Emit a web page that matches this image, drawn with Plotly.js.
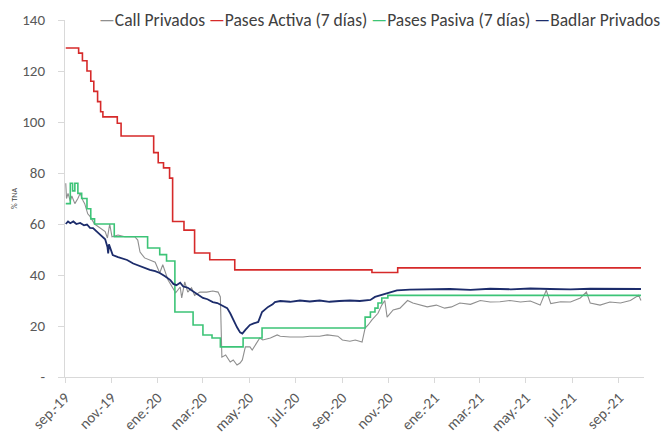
<!DOCTYPE html>
<html>
<head>
<meta charset="utf-8">
<script src="https://cdn.plot.ly/plotly-3.0.1.min.js"></script>
<style>html,body{margin:0;padding:0;background:#fff;}#chart{width:665px;height:436px;}</style>
</head>
<body>
<div id="chart"></div>
<script>
// ---- Series names and colours ----
const seriesNames = ["Call Privados", "Pases Activa (7 días)", "Pases Pasiva (7 días)", "Badlar Privados"];
const seriesColors = ["#8f8f8f", "#d62a2a", "#3cc477", "#1c2c6b"];

// ---- Call Privados ----
const callDates = ["2019-09-02","2019-09-03","2019-09-05","2019-09-08","2019-09-10","2019-09-14","2019-09-18","2019-09-21","2019-09-25","2019-09-27","2019-10-01","2019-10-04","2019-10-10","2019-10-17","2019-10-24","2019-10-27","2019-10-30","2019-11-02","2019-11-10","2019-11-19","2019-12-02","2019-12-06","2019-12-09","2019-12-15","2019-12-22","2019-12-29","2020-01-04","2020-01-08","2020-01-15","2020-01-20","2020-01-25","2020-01-31","2020-02-02","2020-02-06","2020-02-10","2020-02-15","2020-02-19","2020-02-26","2020-03-06","2020-03-14","2020-03-21","2020-03-24","2020-03-26","2020-03-31","2020-04-06","2020-04-10","2020-04-15","2020-04-19","2020-04-22","2020-04-26","2020-05-02","2020-05-05","2020-05-11","2020-05-15","2020-05-19","2020-05-29","2020-06-07","2020-06-11","2020-06-24","2020-07-03","2020-07-11","2020-07-20","2020-08-02","2020-08-12","2020-08-26","2020-09-01","2020-09-11","2020-09-18","2020-09-27","2020-10-01","2020-10-05","2020-10-10","2020-10-18","2020-10-23","2020-10-27","2020-10-30","2020-11-07","2020-11-16","2020-11-26","2020-12-03","2020-12-13","2020-12-22","2021-01-03","2021-01-14","2021-01-23","2021-02-03","2021-02-17","2021-03-02","2021-03-15","2021-03-28","2021-04-10","2021-04-24","2021-05-07","2021-05-20","2021-05-28","2021-06-03","2021-06-16","2021-06-29","2021-07-12","2021-07-20","2021-07-25","2021-08-07","2021-08-20","2021-09-03","2021-09-16","2021-09-27","2021-09-30"];
const callValues = [76,70,72,69,71,68,70,72,69,68,64,63,60,58.4,57,54.5,60,55,55.7,55,55,53.7,49,46.7,45.9,45,40.8,44,38,35.3,33,35.3,31,37.3,33.3,35,32,33.3,33.3,33.7,33.3,31.4,7.8,8.6,5.9,6.7,4.7,5.5,6.7,11.8,11.8,10.6,13.3,15.3,14.5,15.3,16.5,16,15.7,15.7,15.7,16,16,16.5,16,14.5,14,14.5,13.7,19.2,20.4,22.4,25,28.2,30,23.5,26.3,27,30,29,28.2,27.5,28.2,27,27.5,29,28.5,30,29.4,29.5,30,29.4,29.8,28.2,34,28.8,29.5,29.4,31,33.3,29,28.2,29.4,29,30,32,30];

// ---- Pases Activa (7 días) ----
const activaDates = ["2019-09-02","2019-09-19","2019-09-24","2019-09-30","2019-10-05","2019-10-09","2019-10-14","2019-10-18","2019-10-21","2019-11-09","2019-11-14","2019-12-27","2020-01-02","2020-01-09","2020-01-17","2020-01-21","2020-02-05","2020-02-19","2020-03-10","2020-04-12","2020-10-10","2020-11-13","2021-09-30"];
const activaValues = [129,127,124,120,116,112,108,104,102,99.5,94.5,88,84,82,78,61,57.6,48.6,46,42,41,42.8,42.8];

// ---- Pases Pasiva (7 días) ----
const pasivaDates = ["2019-09-02","2019-09-08","2019-09-11","2019-09-14","2019-09-18","2019-09-23","2019-09-30","2019-10-05","2019-10-10","2019-11-05","2019-12-19","2020-01-04","2020-01-13","2020-01-24","2020-02-17","2020-03-01","2020-03-13","2020-03-24","2020-04-23","2020-05-18","2020-10-01","2020-10-08","2020-10-14","2020-10-18","2020-10-23","2020-10-31","2021-09-30"];
const pasivaValues = [68,76,73,76,72,70,66,62,60,55,50.6,48,45.5,25.5,20.4,16.5,15.3,11.8,15.3,19.2,23.5,25.5,27,29,31,32,32];

// ---- Badlar Privados ----
const badlarDates = ["2019-09-02","2019-09-05","2019-09-08","2019-09-12","2019-09-16","2019-09-21","2019-09-26","2019-09-30","2019-10-04","2019-10-08","2019-10-13","2019-10-17","2019-10-21","2019-10-24","2019-10-27","2019-10-28","2019-10-29","2019-11-01","2019-11-03","2019-11-10","2019-11-16","2019-11-22","2019-11-30","2019-12-06","2019-12-13","2019-12-22","2019-12-29","2020-01-04","2020-01-11","2020-01-18","2020-01-22","2020-01-26","2020-01-31","2020-02-04","2020-02-10","2020-02-17","2020-02-24","2020-03-01","2020-03-07","2020-03-14","2020-03-20","2020-03-27","2020-04-02","2020-04-06","2020-04-10","2020-04-15","2020-04-19","2020-04-22","2020-04-26","2020-05-02","2020-05-07","2020-05-13","2020-05-18","2020-05-22","2020-05-26","2020-06-01","2020-06-04","2020-06-11","2020-06-24","2020-07-07","2020-07-20","2020-08-02","2020-08-15","2020-08-28","2020-09-11","2020-09-24","2020-10-08","2020-10-14","2020-10-20","2020-10-31","2020-11-12","2020-11-29","2020-12-26","2021-01-21","2021-02-17","2021-03-15","2021-04-11","2021-05-07","2021-06-02","2021-06-29","2021-07-25","2021-08-20","2021-09-16","2021-09-30"];
const badlarValues = [60,61,60.3,61,60,60.4,59.5,59.8,58.5,58.4,57,56,55,54,51,48.5,52,49,47.8,47,46.5,45.9,44.5,43.8,43,42,41.5,40.8,39.5,38,36.5,36,37,35.5,35,33.5,32,31,30.5,29.4,29,28,27,25,22.4,19.5,17.5,17,18.5,20.4,21,21.6,25.5,26.5,27.5,28.5,29.4,29.8,29.5,30,29.6,30,29.5,29.8,30,29.8,30.2,31.4,32,32.8,34,34.3,34.5,34.5,34.2,34.6,34.4,34.7,34.5,34.4,34.6,34.5,34.4,34.5];

// ---- Axis ticks ----
const xTickVals = ["2019-09-01","2019-11-01","2020-01-01","2020-03-01","2020-05-01","2020-07-01","2020-09-01","2020-11-01","2021-01-01","2021-03-01","2021-05-01","2021-07-01","2021-09-01"];
const xTickText = ["sep.-19","nov.-19","ene.-20","mar.-20","may.-20","jul.-20","sep.-20","nov.-20","ene.-21","mar.-21","may.-21","jul.-21","sep.-21"];
const yTickVals = [0,20,40,60,80,100,120,140];
const yTickText = ["-","20","40","60","80","100","120","140"];

const FONT = "Carlito, Calibri, Lato, 'Liberation Sans', sans-serif";

const traces = [
  {x: callDates, y: callValues, name: seriesNames[0], type: "scatter", mode: "lines", line: {color: seriesColors[0], width: 1.1}},
  {x: activaDates, y: activaValues, name: seriesNames[1], type: "scatter", mode: "lines", line: {color: seriesColors[1], width: 1.6, shape: "hv"}},
  {x: pasivaDates, y: pasivaValues, name: seriesNames[2], type: "scatter", mode: "lines", line: {color: seriesColors[2], width: 1.6, shape: "hv"}},
  {x: badlarDates, y: badlarValues, name: seriesNames[3], type: "scatter", mode: "lines", line: {color: seriesColors[3], width: 1.8}}
];

const legendText = seriesNames.map((n, i) => '<span style="color:' + seriesColors[i] + '">—</span>' + n).join(' ');

const layout = {
  width: 665, height: 436,
  margin: {l: 65, r: 21, t: 20, b: 59},
  paper_bgcolor: "#ffffff", plot_bgcolor: "#ffffff",
  showlegend: false,
  font: {family: FONT, size: 15, color: "#595959"},
  xaxis: {
    type: "date",
    range: ["2019-09-01", "2021-10-04"],
    tickvals: xTickVals, ticktext: xTickText,
    tickangle: -45,
    ticks: "outside", ticklen: 5, tickcolor: "#d9d9d9",
    showgrid: false, zeroline: false,
    showline: true, linecolor: "#d9d9d9", linewidth: 1,
    tickfont: {family: FONT, size: 15, color: "#595959"},
    fixedrange: true
  },
  yaxis: {
    range: [0, 140],
    tickvals: yTickVals, ticktext: yTickText,
    ticks: "outside", ticklen: 6, tickcolor: "#d9d9d9",
    ticklabelstandoff: 10,
    showgrid: false, zeroline: false,
    showline: true, linecolor: "#d9d9d9", linewidth: 1,
    tickfont: {family: FONT, size: 15, color: "#595959"},
    title: {text: "% TNA", font: {family: FONT, size: 8, color: "#404040"}, standoff: 3},
    fixedrange: true
  },
  annotations: [{
    xref: "paper", yref: "paper", x: 0.055, y: 1.0,
    xanchor: "left", yanchor: "middle",
    text: legendText, showarrow: false,
    font: {family: FONT, size: 17.5, color: "#404040"}
  }]
};

Plotly.newPlot("chart", traces, layout, {displayModeBar: false, staticPlot: true});
</script>
</body>
</html>
